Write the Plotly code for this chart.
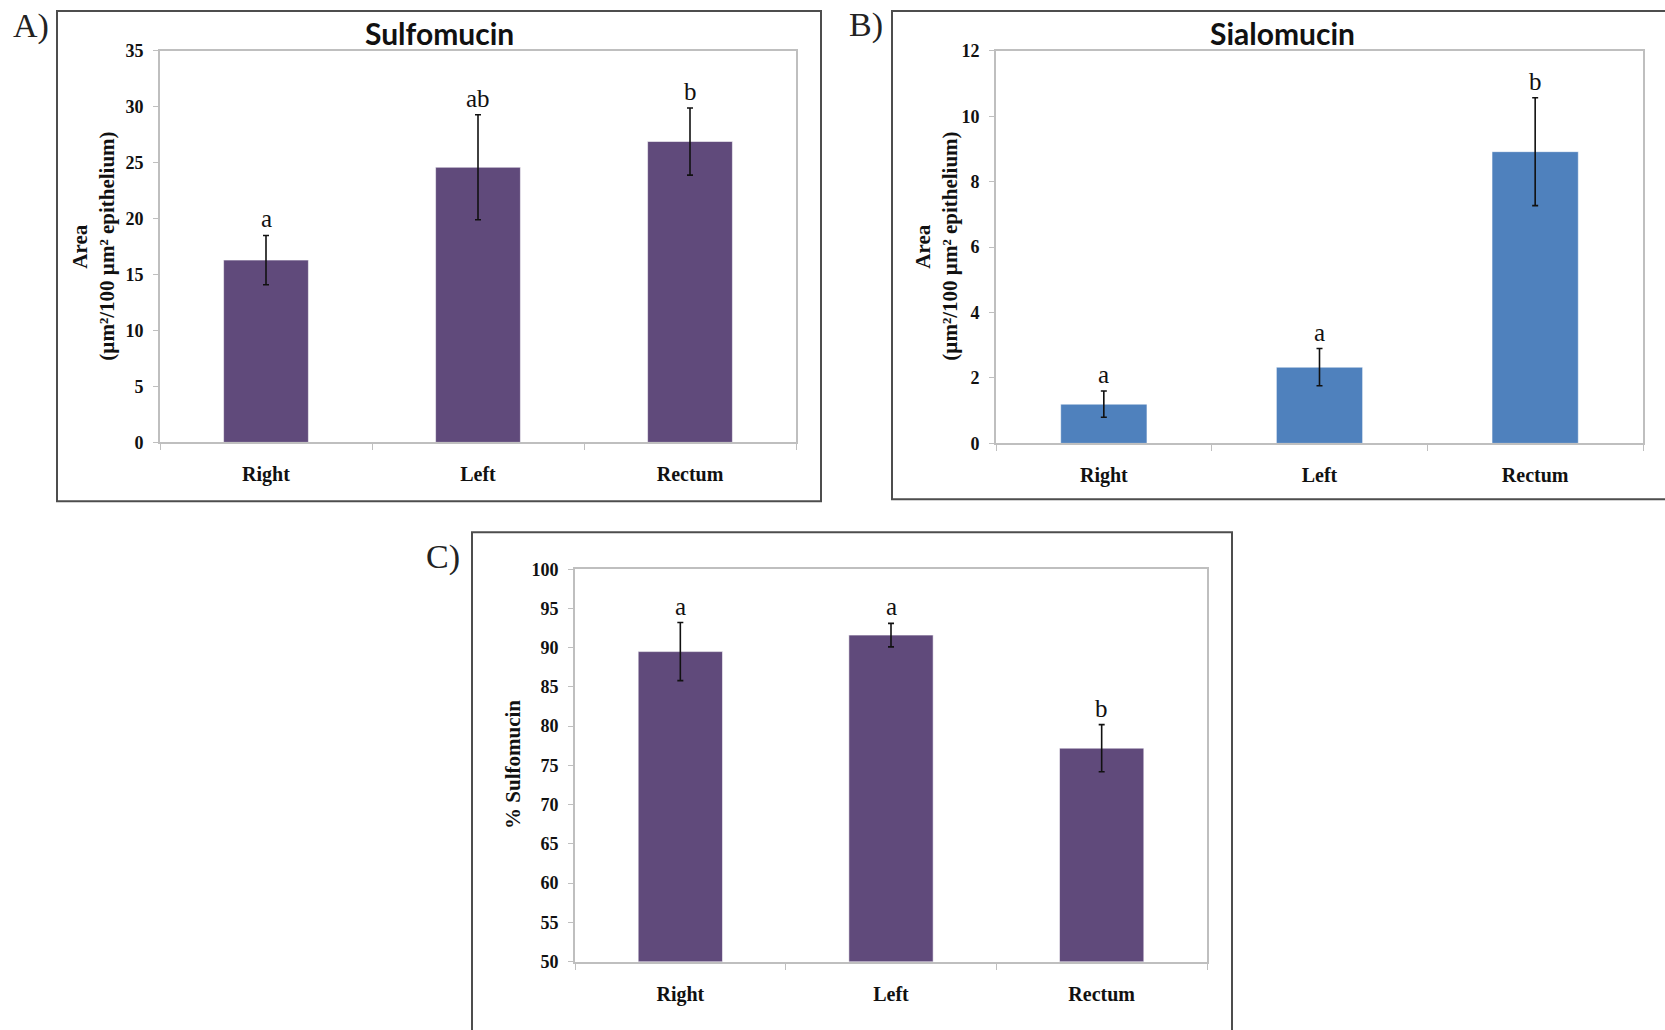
import plotly.graph_objects as go

# ---- data ----
regions = ["Right", "Left", "Rectum"]

sulfo_area = [16.3, 24.6, 26.9]
sulfo_err = [2.2, 4.7, 3.0]
sulfo_letters = ["a", "ab", "b"]

sialo_area = [1.2, 2.33, 8.92]
sialo_err = [0.4, 0.57, 1.65]
sialo_letters = ["a", "a", "b"]

pct_sulfo = [89.5, 91.6, 77.2]
pct_err = [3.7, 1.5, 3.0]
pct_letters = ["a", "a", "b"]

W, H = 1665, 1030
PURPLE = "#604A7B"
BLUE = "#4F81BD"
AXIS_GRAY = "#BFBFBF"
SERIF = "Liberation Serif"

# vertical page placement: the figure sits with a small band above and below it
Y_OFF, Y_SCALE = 9.0, 0.982


def px_x(x):
    return x / W


def px_y(y):
    yi = (y - Y_OFF) / Y_SCALE
    return 1 - yi / H


fig = go.Figure()

panels = [
    # (axis id, values, errors, letters, colour, x-domain px, y-domain px, y-range, dtick)
    ("", sulfo_area, sulfo_err, sulfo_letters, PURPLE, (160, 796), (50, 442), (0, 35), 5),
    ("2", sialo_area, sialo_err, sialo_letters, BLUE, (996, 1643), (50, 443), (0, 12), 2),
    ("3", pct_sulfo, pct_err, pct_letters, PURPLE, (575, 1207), (569, 962), (50, 100), 5),
]

annotations = []
for ax_id, vals, errs, letters, colour, xd, yd, yr, dt in panels:
    xa, ya = "x" + ax_id, "y" + ax_id
    fig.add_trace(go.Bar(
        x=regions, y=vals, xaxis=xa, yaxis=ya, width=0.4,
        marker=dict(color=colour, line=dict(color="rgba(255,255,255,0.55)", width=1)),
        error_y=dict(type="data", array=errs, visible=True, color="#111111",
                     thickness=1.6, width=3),
        showlegend=False,
    ))
    for r, v, e, t in zip(regions, vals, errs, letters):
        annotations.append(dict(
            x=r, y=v + e, xref=xa, yref=ya, text=t, showarrow=False,
            yanchor="bottom", xanchor="center", yshift=1,
            font=dict(family=SERIF, size=25, color="#111111"),
        ))

    xkey = "xaxis" + ax_id
    ykey = "yaxis" + ax_id
    fig.layout[xkey] = dict(
        domain=[px_x(xd[0]), px_x(xd[1])], anchor=ya, type="category",
        range=[-0.5, 2.5], tickson="boundaries", ticks="outside", ticklen=6,
        tickcolor=AXIS_GRAY, tickwidth=1.2, showline=True, linecolor=AXIS_GRAY,
        linewidth=1.8, mirror=True, showgrid=False, zeroline=False,
        ticklabelstandoff=13,
        tickfont=dict(family=SERIF, size=20, color="#111111", weight="bold"),
    )
    fig.layout[ykey] = dict(
        domain=[px_y(yd[1]), px_y(yd[0])], anchor=xa, range=list(yr),
        tickmode="linear", tick0=yr[0], dtick=dt, ticks="outside", ticklen=5,
        tickcolor=AXIS_GRAY, tickwidth=1.2, showline=True, linecolor=AXIS_GRAY,
        linewidth=1.8, mirror=True, showgrid=False, zeroline=False,
        ticklabelstandoff=6,
        tickfont=dict(family=SERIF, size=18, color="#111111", weight="bold"),
    )

# chart titles
for txt, cx in [("Sulfomucin", 439), ("Sialomucin", 1282)]:
    annotations.append(dict(
        x=px_x(cx), y=px_y(32), xref="paper", yref="paper", text=txt,
        showarrow=False, xanchor="center", yanchor="middle",
        font=dict(family="Lato", size=30, color="#111111", weight="bold"),
    ))

# panel labels
for txt, cx, cy in [("A)", 31, 25), ("B)", 866, 24), ("C)", 443, 557)]:
    annotations.append(dict(
        x=px_x(cx), y=px_y(cy), xref="paper", yref="paper", text=txt,
        showarrow=False, xanchor="center", yanchor="middle",
        font=dict(family=SERIF, size=34, color="#222222"),
    ))

# y-axis titles (two-line area title, one-line percentage title)
for cx, txt in [(80, "Area"), (107, "(µm²/100 µm² epithelium)"),
                (923, "Area"), (950, "(µm²/100 µm² epithelium)")]:
    annotations.append(dict(
        x=px_x(cx), y=px_y(246), xref="paper", yref="paper", text=txt,
        showarrow=False, textangle=-90, xanchor="center", yanchor="middle",
        font=dict(family=SERIF, size=21, color="#111111", weight="bold"),
    ))
annotations.append(dict(
    x=px_x(513), y=px_y(765), xref="paper", yref="paper", text="% Sulfomucin",
    showarrow=False, textangle=-90, xanchor="center", yanchor="middle",
    font=dict(family=SERIF, size=21, color="#111111", weight="bold"),
))

# outer frames around each panel
shapes = []
for x0, y0, x1, y1 in [(57, 10, 821, 501), (892, 10, 1700, 499), (472, 532, 1232, 1060)]:
    shapes.append(dict(
        type="rect", xref="paper", yref="paper",
        x0=px_x(x0), x1=px_x(x1), y0=px_y(y1), y1=px_y(y0),
        line=dict(color="#4d4d4d", width=2), fillcolor="rgba(0,0,0,0)", layer="below",
    ))

fig.update_layout(
    width=W, height=H, margin=dict(l=0, r=0, t=0, b=0),
    paper_bgcolor="white", plot_bgcolor="white",
    annotations=annotations, shapes=shapes, bargap=0.6,
)

fig.write_html("out.html")
